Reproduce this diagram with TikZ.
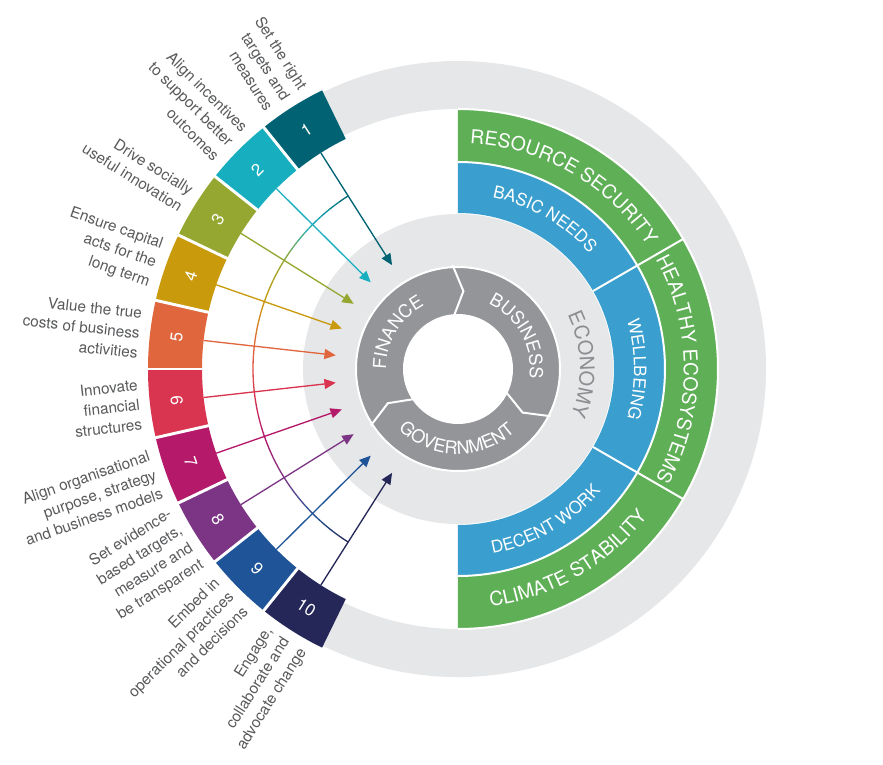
\documentclass[tikz,border=0pt]{standalone}
\usepackage{fontspec}
\setmainfont{TeX Gyre Heros}
\usetikzlibrary{arrows.meta,decorations.text}

\definecolor{c1}{HTML}{006272}
\definecolor{c2}{HTML}{17AFBF}
\definecolor{c3}{HTML}{95A731}
\definecolor{c4}{HTML}{C89A0C}
\definecolor{c5}{HTML}{E0673D}
\definecolor{c6}{HTML}{DA3550}
\definecolor{c7}{HTML}{B4196A}
\definecolor{c8}{HTML}{7C3585}
\definecolor{c9}{HTML}{1F5598}
\definecolor{c10}{HTML}{252759}
\definecolor{ringgrey}{HTML}{E6E7E8}
\definecolor{hubgrey}{HTML}{939598}
\definecolor{econgrey}{HTML}{8C8E91}
\definecolor{bandgreen}{HTML}{5EAF55}
\definecolor{bandblue}{HTML}{3A9FCE}
\definecolor{labelgrey}{HTML}{58595B}

\newcommand\greenfont{\fontsize{14.5}{16}\selectfont}
\newcommand\bluefont{\fontsize{12.75}{14}\selectfont}
\newcommand\econfont{\fontsize{15}{17}\selectfont}
\newcommand\hubfont{\fontsize{13.5}{15}\selectfont}

\tikzset{
  lbl/.style={text=labelgrey, font=\fontsize{11.5}{15}\selectfont, align=right, inner sep=0pt},
  num/.style={text=white, font=\fontsize{12.75}{14}\selectfont, inner sep=0pt},
  spoke/.style={line width=1pt, -{Triangle[length=8.5pt, width=7.5pt]}},
  sep/.style={white, line width=1.5pt},
  cw/.style={decorate, decoration={text along path, text align=center, text color=white, text={#1}}},
}

\begin{document}
\begin{tikzpicture}[x=0.75pt, y=0.75pt]
  \useasboundingbox (-458,-396) rectangle (425,369);

  % outer grey ring and the right-hand bands
  \fill[ringgrey] (116:260) arc[start angle=116, end angle=-116, radius=260]
    -- (-116:308) arc[start angle=-116, end angle=116, radius=308] -- cycle;
  \fill[bandgreen] (90:207) arc[start angle=90, end angle=-90, radius=207]
    -- (-90:260) arc[start angle=-90, end angle=90, radius=260] -- cycle;
  \fill[bandblue] (90:156) arc[start angle=90, end angle=-90, radius=156]
    -- (-90:207) arc[start angle=-90, end angle=90, radius=207] -- cycle;
  \draw[sep] (90:260) arc[start angle=90, end angle=-90, radius=260];
  \draw[sep] (90:207) arc[start angle=90, end angle=-90, radius=207];
  \foreach \d in {30,-30}
    \draw[sep] (\d:156) -- (\d:261);

  % economy and the hub
  \fill[ringgrey] (0,0) circle[radius=155];
  \fill[hubgrey] (0,0) circle[radius=102];
  \draw[sep] (0,0) circle[radius=102];
  \fill[white] (0,0) circle[radius=55];
  \foreach \d in {93,-27,213}
    \draw[sep] (\d:104) -- ({\d-7}:78) -- ({\d+1}:54);

  % numbered boxes
  \foreach \i [evaluate=\i as \a using 116+12.8*(\i-1),
               evaluate=\i as \b using 116+12.8*\i,
               evaluate=\i as \m using 122.4+12.8*(\i-1)] in {1,...,10} {
    \pgfmathsetmacro\r{\i<6 ? \m-90 : \m+90}
    \fill[fill=c\i] (\a:256) arc[start angle=\a, end angle=\b, radius=256]
      -- (\b:310) arc[start angle=\b, end angle=\a, radius=310] -- cycle;
    \node[num, rotate=\r] (n\i) at (\m:283) {\i};
    \coordinate (s\i) at (\m:256);
    \coordinate (t\i) at (\m:123);
  }
  \foreach \i in {1,...,9}
    \draw[white, line width=2.2pt] ({116+12.8*\i}:250) -- ({116+12.8*\i}:316);

  % connecting arc
  \foreach \i [count=\j from 2] in {1,...,9} {
    \foreach \k in {0,...,3} {
      \pgfmathsetmacro\aa{122.4+12.8*(\i-1)+3.2*\k}
      \pgfmathtruncatemacro\pp{88-25*\k}
      \draw[color=c\i!\pp!c\j, line width=1pt] (\aa:205) arc[start angle=\aa, delta angle=3.2, radius=205];
    }
  }

  % arrows
  \foreach \i in {1,...,10}
    \draw[spoke, color=c\i] (s\i) -- (t\i);

  % labels
  \foreach \i/\t [evaluate=\i as \m using 122.4+12.8*(\i-1)] in {
      1/{Set the right\\targets and\\measures},
      2/{Align incentives\\to support better\\outcomes},
      3/{Drive socially\\useful innovation},
      4/{Ensure capital\\acts for the\\long term},
      5/{Value the true\\costs of business\\activities},
      6/{Innovate\\financial\\structures},
      7/{Align organisational\\purpose, strategy\\and business models},
      8/{Set evidence-\\based targets,\\measure and\\be transparent},
      9/{Embed in\\operational practices\\and decisions},
      10/{Engage,\\collaborate and\\advocate change}}
    \node[lbl, rotate=\m-180, anchor=east] (l\i) at (\m:320) {\t};

  % curved texts
  \path[cw={|\greenfont|RESOURCE SECURITY}] (90:226) arc[start angle=90, end angle=30, radius=226];
  \path[cw={|\greenfont|HEALTHY ECOSYSTEMS}] (30:226) arc[start angle=30, end angle=-30, radius=226];
  \path[cw={|\greenfont|CLIMATE STABILITY}] (-90:240) arc[start angle=-90, end angle=-30, radius=240];
  \path[cw={|\bluefont|BASIC NEEDS}] (90:175) arc[start angle=90, end angle=30, radius=175];
  \path[cw={|\bluefont|WELLBEING}] (30:176) arc[start angle=30, end angle=-30, radius=176];
  \path[cw={|\bluefont|DECENT WORK}] (-90:188) arc[start angle=-90, end angle=-30, radius=188];
  \path[decorate, decoration={text along path, text align=center, text color=econgrey,
      text={|\econfont|ECONOMY}}] (47:122) arc[start angle=47, end angle=-43, radius=122];
  \path[cw={|\hubfont|FINANCE}] (209:72) arc[start angle=209, end angle=89, radius=72];
  \path[cw={|\hubfont|BUSINESS}] (89:72) arc[start angle=89, end angle=-31, radius=72];
  \path[cw={|\hubfont|GOVERNMENT}] (209:85) arc[start angle=209, end angle=329, radius=85];
\end{tikzpicture}
\end{document}
